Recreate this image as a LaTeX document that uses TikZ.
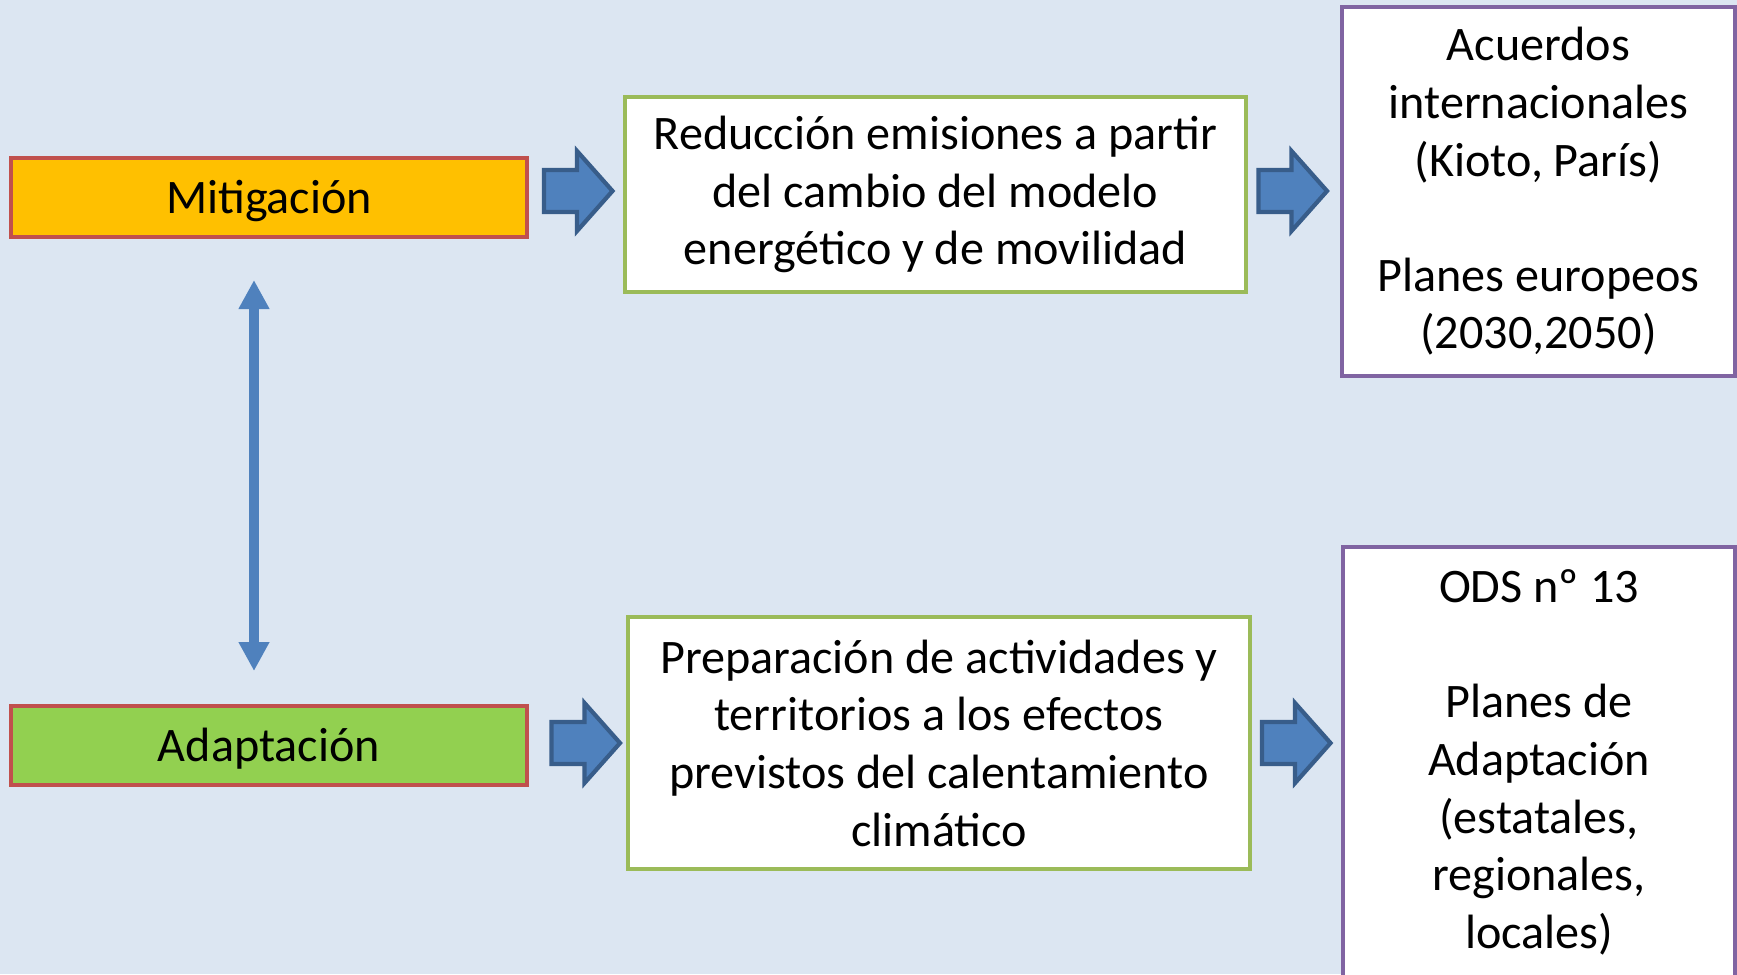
\documentclass[tikz,border=0pt]{standalone}
\usepackage{fontspec}
\setmainfont{Carlito}
\usetikzlibrary{arrows.meta}
\definecolor{bg}{HTML}{DCE6F2}
\definecolor{orangefill}{HTML}{FFC000}
\definecolor{redborder}{HTML}{C0504D}
\definecolor{greenfill}{HTML}{92D050}
\definecolor{greenborder}{HTML}{9BBB59}
\definecolor{purpleborder}{HTML}{8064A2}
\definecolor{arrowblue}{HTML}{4F81BD}
\definecolor{arrowborder}{HTML}{385D8A}
\begin{document}
\begin{tikzpicture}[x=0.1mm,y=-0.1mm,
  font=\fontsize{13.7}{16.4}\selectfont,
  box/.style={draw, line width=1.1pt, inner sep=0pt, align=center},
  leftbox/.style={box, draw=redborder, line width=1.4pt, minimum width=51.6mm, minimum height=7.9mm, text depth=0.5pt},
  midbox/.style={box, draw=greenborder, fill=white, line width=1.3pt},
  rightbox/.style={box, draw=purpleborder, fill=white, line width=1.3pt},
  blockarrow/.pic={\draw[draw=arrowborder, fill=arrowblue, line width=1.2pt, line join=miter, miter limit=3]
    (-34.5,-21) -- (-1.5,-21) -- (-1.5,-40) -- (34,0) -- (-1.5,40) -- (-1.5,21) -- (-34.5,21) -- cycle;}
]
\useasboundingbox (0,0) rectangle (1737,974);
\fill[bg] (0,0) rectangle (1737,974);
\clip (0,0) rectangle (1737,974);

\node[leftbox, fill=orangefill] (mit) at (269,197.5) {Mitigación};
\node[leftbox, fill=greenfill] (ada) at (269,745.5) {Adaptación};

\node[midbox, minimum width=62.1mm, minimum height=19.5mm] (red) at (935.5,194.5)
  {Reducción emisiones a partir\\del cambio del modelo\\energético y de movilidad};
\node[midbox, minimum width=62.2mm, minimum height=25.2mm] (prep) at (939,743)
  {Preparación de actividades y\\territorios a los efectos\\previstos del calentamiento\\climático};

\node[rightbox, minimum width=39.3mm, minimum height=36.9mm] (acu) at (1538.5,191.5)
  {Acuerdos\\internacionales\\(Kioto, París)\\[16.4pt]Planes europeos\\(2030,2050)};
\node[rightbox, minimum width=39.2mm, minimum height=43.1mm] (ods) at (1539,762.5)
  {ODS nº 13\\[16.4pt]Planes de\\Adaptación\\(estatales,\\regionales,\\locales)};

\pic (a1) at (578.5,191) {blockarrow};
\pic (a2) at (1293,191) {blockarrow};
\pic (a3) at (586,743) {blockarrow};
\pic (a4) at (1296.5,743) {blockarrow};

\coordinate (dtop) at (254,280);
\coordinate (dbot) at (254,671);
\draw[arrowblue, line width=2.8pt,
  {Triangle[width=2.9mm,length=2.9mm]}-{Triangle[width=2.9mm,length=2.9mm]}] (dtop) -- (dbot);
\end{tikzpicture}
\end{document}
